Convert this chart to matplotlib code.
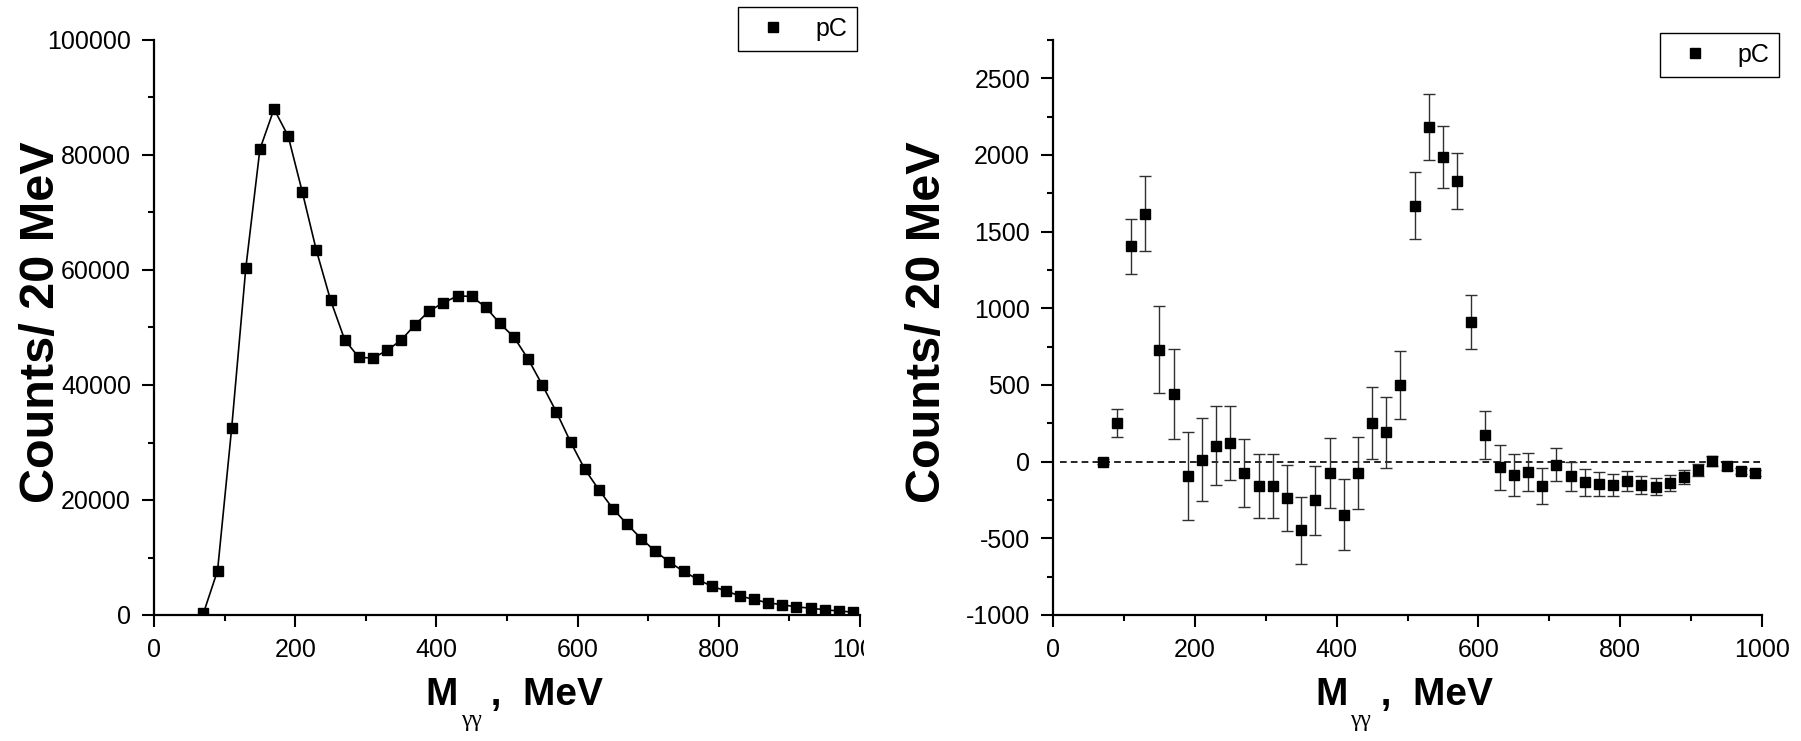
import matplotlib
matplotlib.use("Agg")
import matplotlib.pyplot as plt
from matplotlib.ticker import MultipleLocator, FixedLocator, FixedFormatter
from matplotlib.transforms import Bbox, TransformedBbox
from matplotlib.lines import Line2D

plt.rcParams['font.family'] = ['Liberation Sans', 'DejaVu Sans']
plt.rcParams['axes.unicode_minus'] = False

# ---------------- data ----------------
mass = [70, 90, 110, 130, 150, 170, 190, 210, 230, 250, 270, 290, 310, 330, 350,
        370, 390, 410, 430, 450, 470, 490, 510, 530, 550, 570, 590, 610, 630, 650,
        670, 690, 710, 730, 750, 770, 790, 810, 830, 850, 870, 890, 910, 930, 950,
        970, 990]

counts = [300, 7700, 32500, 60300, 81000, 88000, 83300, 73600, 63400, 54800,
          47900, 44800, 44700, 46000, 47800, 50500, 52900, 54300, 55500, 55400,
          53500, 50700, 48300, 44500, 40000, 35300, 30100, 25400, 21800, 18500,
          15800, 13300, 11100, 9200, 7600, 6200, 5000, 4200, 3300, 2700,
          2100, 1800, 1400, 1200, 900, 700, 500]

diff = [0, 253, 1404, 1617, 731, 441, -93, 12, 105, 120,
        -71, -157, -160, -238, -448, -253, -74, -346, -74, 250,
        191, 500, 1670, 2185, 1988, 1830, 914, 176, -37, -86,
        -68, -160, -19, -96, -133, -145, -154, -127, -154, -164,
        -139, -102, -56, 3, -28, -62, -74]

diff_err = [15, 90, 180, 245, 282, 296, 288, 270, 256, 240,
            222, 210, 210, 215, 220, 225, 227, 233, 233, 235,
            230, 224, 220, 215, 203, 185, 176, 157, 147, 135,
            124, 116, 106, 97, 88, 80, 72, 65, 60, 55,
            50, 45, 38, 31, 25, 20, 18]

x_ticks = [0, 200, 400, 600, 800, 1000]
x_ticklabels = ['0', '200', '400', '600', '800', '1000']
y1_ticks = [0, 20000, 40000, 60000, 80000, 100000]
y2_ticks = [-1000, -500, 0, 500, 1000, 1500, 2000, 2500]

legend_label = 'pC'
ylabel_text = 'Counts/ 20 MeV'
xlabel_text = 'M   ,  MeV'      # the subscript is drawn below, lowered as in the reference
xlabel_sub = '\u03b3\u03b3'     # γγ

# ---------------- figure ----------------
W, H = 1801, 741
fig = plt.figure(figsize=(W / 100, H / 100), dpi=100)
bot = 1 - 615 / H
hgt = (615 - 40) / H
ax1 = fig.add_axes([154 / W, bot, (860 - 154) / W, hgt])
ax2 = fig.add_axes([1053 / W, bot, (1762 - 1053) / W, hgt])

tick_fs = 18
leg_fs = 18
label_fs_y = 35
label_fs_x = 28
sub_fs = 17
ms = 7.5
tick_len = 8.5
tick_pad = 8


def style(ax, label_x):
    for s in ['top', 'right']:
        ax.spines[s].set_visible(False)
    for s in ['left', 'bottom']:
        ax.spines[s].set_linewidth(1.6)
    ax.tick_params(which='major', direction='out', length=tick_len, width=1.5,
                   labelsize=tick_fs, pad=tick_pad)
    ax.tick_params(which='minor', direction='out', length=4.5, width=1.5)
    ax.xaxis.set_major_locator(FixedLocator(x_ticks))
    ax.xaxis.set_minor_locator(MultipleLocator(100))
    ax.set_xlim(0, 1000)
    ax.set_ylabel(ylabel_text, fontsize=label_fs_y, fontweight='bold')
    lab = ax.set_xlabel(xlabel_text, fontsize=label_fs_x, fontweight='bold', labelpad=11)
    lab.set_x(label_x)
    ax.annotate(xlabel_sub, xy=(0, 0), xycoords=lab, xytext=(25, -9.5),
                textcoords='offset points', ha='left', va='baseline',
                fontsize=sub_fs, family='Liberation Serif', annotation_clip=False)


def legend(ax, anchor):
    h = Line2D([], [], ls='none', marker='s', ms=ms, color='black')
    leg = ax.legend([h], [legend_label], loc='upper right',
                    bbox_to_anchor=anchor, bbox_transform=fig.transFigure,
                    fontsize=leg_fs, frameon=True, fancybox=False, borderpad=0.4,
                    handlelength=1.95, handletextpad=0.72, borderaxespad=0)
    leg.get_frame().set_edgecolor('black')
    leg.get_frame().set_linewidth(1.0)
    leg.get_frame().set_alpha(1)


# ---- left panel ----
style(ax1, 0.511)
ax1.plot(mass, counts, color='black', lw=1.2, zorder=2)
ax1.plot(mass, counts, ls='none', marker='s', ms=ms, color='black', zorder=3)
ax1.set_ylim(0, 100000)
ax1.yaxis.set_major_locator(FixedLocator(y1_ticks))
ax1.yaxis.set_minor_locator(MultipleLocator(10000))
# last x tick label is cut off at the panel edge, as in the reference
ax1.xaxis.set_major_formatter(FixedFormatter(x_ticklabels[:-1] + ['']))
t_last = ax1.annotate(x_ticklabels[-1], xy=(x_ticks[-1], 0),
                      xycoords=('data', 'axes fraction'),
                      xytext=(0, -(tick_len + tick_pad)), textcoords='offset points',
                      ha='center', va='top', fontsize=tick_fs, annotation_clip=False)
t_last.set_clip_box(TransformedBbox(Bbox.from_extents(0, 0, 864 / W, 1), fig.transFigure))
t_last.set_clip_on(True)
legend(ax1, (857 / W, 1 - 7 / H))
ax1.yaxis.set_label_coords(-0.128, 0.51)

# ---- right panel ----
style(ax2, 0.495)
ax2.axhline(0, xmin=0.01, xmax=1.0, color='black', lw=1.2, ls=(0, (4, 2.5)), zorder=1)
ax2.errorbar(mass, diff, yerr=diff_err, fmt='s', ms=ms, color='black',
             ecolor='#303030', elinewidth=1.0, capsize=4.5, capthick=1.0, zorder=3)
ax2.set_ylim(-1000, 2750)
ax2.yaxis.set_major_locator(FixedLocator(y2_ticks))
ax2.yaxis.set_minor_locator(MultipleLocator(250))
legend(ax2, (1779 / W, 1 - 33 / H))
ax2.yaxis.set_label_coords(-0.145, 0.51)

fig.savefig('out.png', dpi=100)
